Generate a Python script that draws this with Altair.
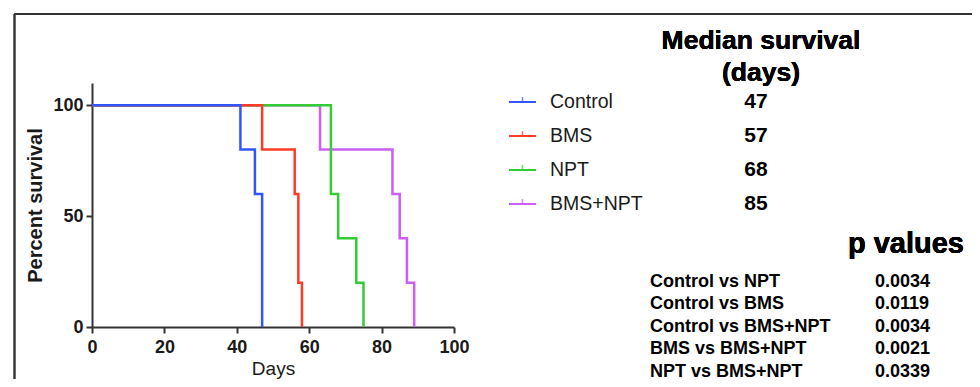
import altair as alt
import pandas as pd

# ---- data ----
groups = ["Control", "BMS", "NPT", "BMS+NPT"]
colors = ["#3355FF", "#FF3B25", "#33CC33", "#CC5DF5"]
# Kaplan-Meier step points (day, percent survival)
km_days = {
    "Control": [0, 41, 45, 47],
    "BMS": [0, 47, 56, 57, 58],
    "NPT": [0, 66, 68, 73, 75],
    "BMS+NPT": [0, 63, 83, 85, 87, 89],
}
km_surv = {
    "Control": [100, 80, 60, 0],
    "BMS": [100, 80, 60, 20, 0],
    "NPT": [100, 60, 40, 20, 0],
    "BMS+NPT": [100, 80, 60, 40, 20, 0],
}
medians = [47, 57, 68, 85]
p_labels = ["Control vs NPT", "Control vs BMS", "Control vs BMS+NPT",
            "BMS vs BMS+NPT", "NPT vs BMS+NPT"]
p_values = ["0.0034", "0.0119", "0.0034", "0.0021", "0.0339"]
x_ticks = [0, 20, 40, 60, 80, 100]
y_ticks = [0, 50, 100]

FONT = "Liberation Sans"
INK = "#1a1a1a"

# draw order: last group first so Control ends up on top
rows = []
for g in reversed(groups):
    for d, s in zip(km_days[g], km_surv[g]):
        rows.append({"group": g, "day": d, "surv": s})
km = pd.DataFrame(rows)

color_scale = alt.Scale(domain=groups, range=colors)

lines = alt.Chart(km).mark_line(interpolate="step-after", strokeWidth=2.5).encode(
    x=alt.X("day:Q", scale=alt.Scale(domain=[0, 100], nice=False),
            axis=alt.Axis(values=x_ticks, title="Days", grid=False, labelFlush=False,
                          labelFont=FONT, labelFontSize=18, labelFontWeight="bold",
                          labelColor=INK, labelPadding=5,
                          titleFont=FONT, titleFontSize=19, titleFontWeight="normal",
                          titleColor=INK, titlePadding=3,
                          domainColor="#333", domainWidth=2,
                          tickColor="#333", tickWidth=2, tickSize=6)),
    y=alt.Y("surv:Q", scale=alt.Scale(domain=[0, 110], nice=False),
            axis=alt.Axis(values=y_ticks, title="Percent survival", grid=False, labelFlush=False,
                          labelFont=FONT, labelFontSize=18, labelFontWeight="bold",
                          labelColor=INK, labelPadding=3,
                          titleFont=FONT, titleFontSize=20, titleFontWeight="bold",
                          titleColor=INK, titlePadding=7,
                          domainColor="#333", domainWidth=2,
                          tickColor="#333", tickWidth=2, tickSize=6)),
    color=alt.Color("group:N", scale=color_scale, legend=None),
    detail="group:N",
)

leg_df = pd.DataFrame({"group": groups, "median": medians})
leg_y = alt.Y("group:N", scale=alt.Scale(type="point", domain=groups, range=[19, 121], padding=0), axis=None)

leg_line = alt.Chart(leg_df).mark_rule(strokeWidth=2).encode(
    x=alt.value(417), x2=alt.value(444), y=leg_y,
    color=alt.Color("group:N", scale=color_scale, legend=None),
)
leg_tick = alt.Chart(leg_df).mark_tick(orient="vertical", size=5, thickness=1.5, yOffset=-2.5).encode(
    x=alt.value(430.5), y=leg_y,
    color=alt.Color("group:N", scale=color_scale, legend=None),
)
leg_text = alt.Chart(leg_df).mark_text(align="left", baseline="middle", font=FONT,
                                       fontSize=19.5, color=INK).encode(
    x=alt.value(458), y=leg_y, text="group:N",
)
med_text = alt.Chart(leg_df).mark_text(align="center", baseline="middle", font=FONT,
                                       fontSize=21, fontWeight="bold", color="#000").encode(
    x=alt.value(664), y=leg_y, text="median:Q",
)
med_title1 = alt.Chart(leg_df).mark_text(align="center", baseline="middle", font=FONT,
                                         fontSize=26.5, fontWeight="bold", color="#000").encode(
    x=alt.value(669), y=alt.value(-42), text=alt.value("Median survival"),
)
med_title2 = alt.Chart(leg_df).mark_text(align="center", baseline="middle", font=FONT,
                                         fontSize=26.5, fontWeight="bold", color="#000").encode(
    x=alt.value(669), y=alt.value(-10), text=alt.value("(days)"),
)

p_df = pd.DataFrame({"label": p_labels, "p": p_values})
p_y = alt.Y("label:N", scale=alt.Scale(type="point", domain=p_labels, range=[198.5, 288.5], padding=0), axis=None)
p_lab = alt.Chart(p_df).mark_text(align="left", baseline="middle", font=FONT,
                                  fontSize=18, fontWeight="bold", color="#000").encode(
    x=alt.value(558), y=p_y, text="label:N",
)
p_val = alt.Chart(p_df).mark_text(align="left", baseline="middle", font=FONT,
                                  fontSize=18, fontWeight="bold", color="#000").encode(
    x=alt.value(783), y=p_y, text="p:N",
)
p_title = alt.Chart(p_df).mark_text(align="right", baseline="alphabetic", font=FONT,
                                    fontSize=29, fontWeight="bold", color="#000").encode(
    x=alt.value(872), y=alt.value(170), text=alt.value("p values"),
)

frame_top = alt.Chart(leg_df).mark_rule(color="#333", strokeWidth=1.5).encode(
    x=alt.value(-77.5), x2=alt.value(900), y=alt.value(-69),
)
frame_left = alt.Chart(leg_df).mark_rule(color="#333", strokeWidth=1.5).encode(
    x=alt.value(-77.5), y=alt.value(-69), y2=alt.value(310),
)

chart = alt.layer(
    frame_top, frame_left, lines, leg_line, leg_tick, leg_text, med_text,
    med_title1, med_title2, p_lab, p_val, p_title,
).resolve_scale(y="independent").properties(
    width=362, height=244,
    padding={"left": 84, "top": 75, "right": 518, "bottom": 52},
    autosize=alt.AutoSizeParams(type="none"),
    background="white",
).configure_view(stroke=None)

chart.save("out.html", embed_options={"renderer": "svg", "actions": False})
